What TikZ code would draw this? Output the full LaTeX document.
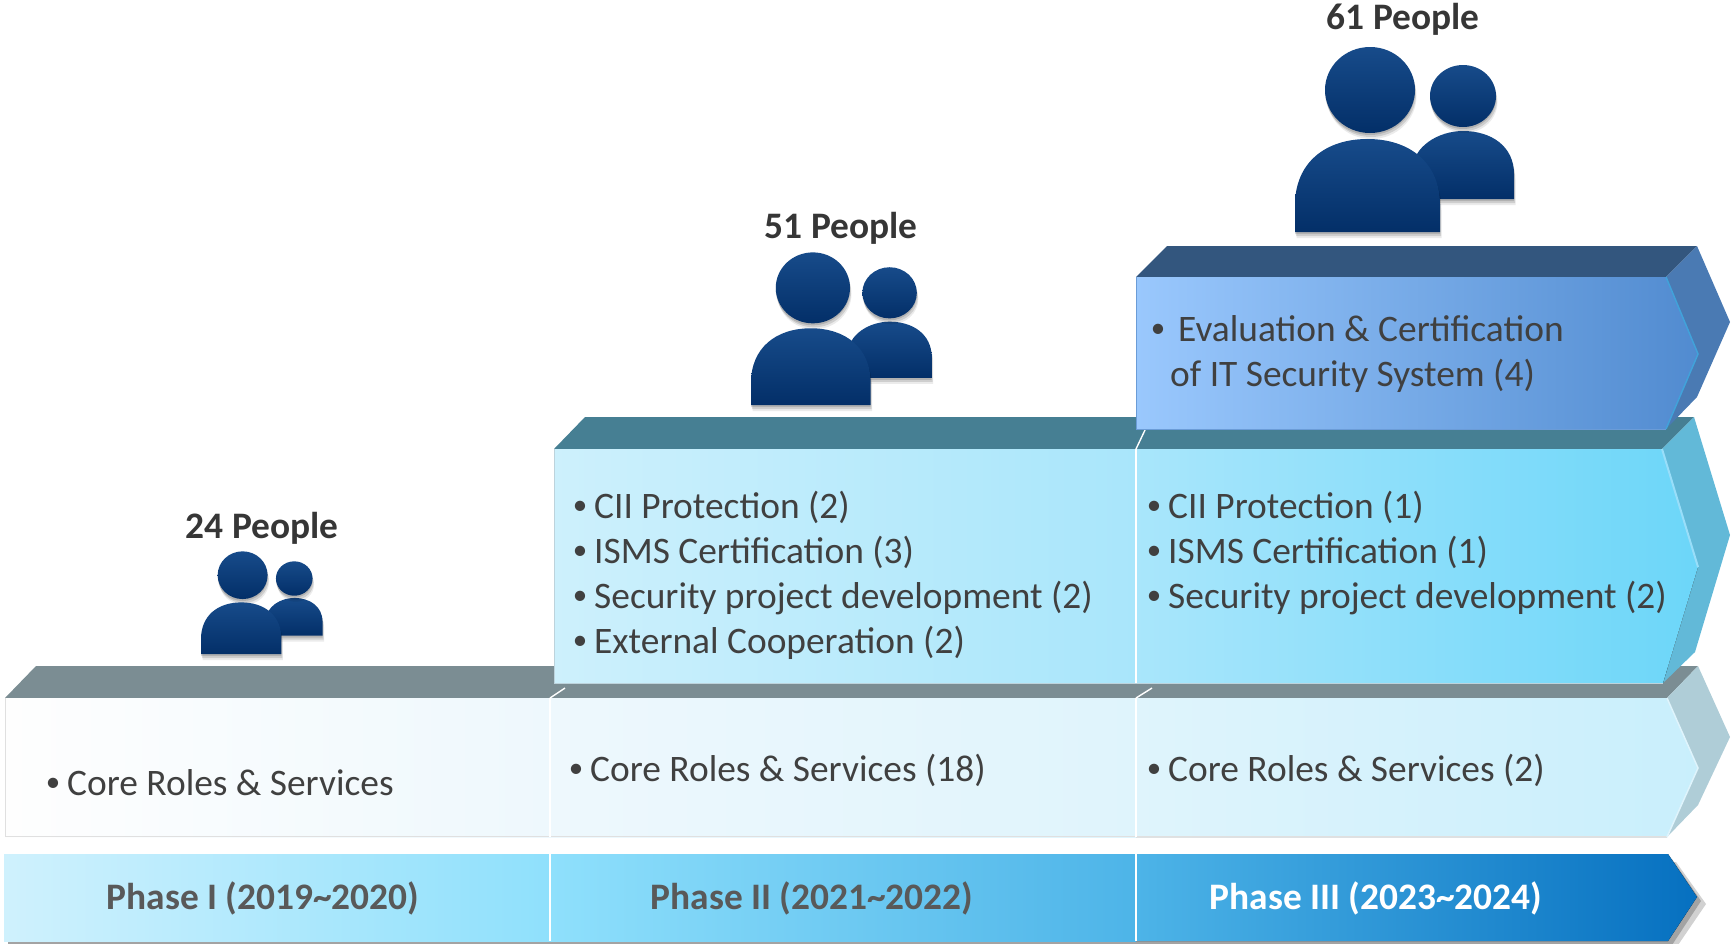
\documentclass[tikz,border=0pt]{standalone}
\usepackage{fontspec}
\setmainfont{Carlito}
\usetikzlibrary{shadows}
\definecolor{inktext}{HTML}{404040}
\definecolor{phasetext}{HTML}{595959}
\definecolor{headtext}{HTML}{363636}
\definecolor{faceA}{HTML}{7B8D93}
\definecolor{faceB}{HTML}{467F93}
\definecolor{faceC}{HTML}{33567E}
\definecolor{sideA}{HTML}{AFCDD7}
\definecolor{sideB}{HTML}{62B9D8}
\definecolor{sideC}{HTML}{4A7AB3}
\definecolor{personT}{HTML}{174B8A}
\definecolor{personB}{HTML}{032F68}
\definecolor{barA}{HTML}{CFF1FD}
\definecolor{barB}{HTML}{8FE0FC}
\definecolor{barC}{HTML}{4DB4E8}
\definecolor{barD}{HTML}{0670C0}
\definecolor{lowA}{HTML}{FEFEFE}
\definecolor{lowB}{HTML}{EEF8FD}
\definecolor{lowC}{HTML}{DFF4FC}
\definecolor{lowD}{HTML}{C9EFFC}
\definecolor{midA}{HTML}{CDF0FC}
\definecolor{midB}{HTML}{A9E6FB}
\definecolor{midC}{HTML}{6CD6F9}
\definecolor{topA}{HTML}{9AC8FD}
\definecolor{topB}{HTML}{84B5EE}
\definecolor{topC}{HTML}{518BD0}
% bullet in front of the text
\newcommand{\smalldot}{{\fontsize{29}{29}\selectfont\raisebox{4pt}{\textbullet}}}
\newcommand{\dotted}[1]{\llap{\smalldot\hspace{7pt}}#1}
% two people, x and y of the big body's lower left corner, then size
\newcommand{\people}[3]{%
    \begin{scope}[shift={(#1,#2)},scale=#3]
        \path[person] (117,-33) -- (117,-60) .. controls (117,-86) and (144,-101) .. (168,-101)
            .. controls (196,-101) and (219,-86) .. (219,-58) -- (219,-33) -- cycle;
        \path[person] (168,-136) ellipse [x radius=33,y radius=31];
        \path[person] (75,-142) ellipse [x radius=45,y radius=43];
        \path[person] (0,0) -- (0,-27) .. controls (0,-69) and (30,-93) .. (72.5,-93)
            .. controls (115,-93) and (145,-69) .. (145,-27) -- (145,0) -- cycle;
    \end{scope}
}
\begin{document}
\begin{tikzpicture}[
    x=1pt,y=-1pt,
    % Styles
    person/.style={
        top color=personT,
        bottom color=personB,
        drop shadow={shadow xshift=0pt,shadow yshift=-2pt,opacity=.14,fill=black},
        drop shadow={shadow xshift=1pt,shadow yshift=-4pt,opacity=.12,fill=black},
        drop shadow={shadow xshift=1.5pt,shadow yshift=-6pt,opacity=.08,fill=black},
    },
    item/.style={
        anchor=base west,
        inner sep=0pt,
        text=inktext,
        font=\fontsize{37.4}{45}\selectfont,
    },
    count/.style={
        anchor=base,
        inner sep=0pt,
        text=headtext,
        font=\fontsize{37.4}{45}\selectfont\bfseries,
    },
    phase/.style={
        anchor=base,
        inner sep=0pt,
        text=phasetext,
        font=\fontsize{37.4}{45}\selectfont\bfseries,
    },
    divider/.style={
        white,
        line width=2pt,
    },
    tick/.style={
        white,
        line width=1.4pt,
    },
    ]
    \useasboundingbox (0,0) rectangle (1731,943);

    % Phase bar
    \fill[black,opacity=.22] (8,859) -- (1672,859) -- (1701,901) -- (1672,945) -- (8,945) -- cycle;
    \fill[black,opacity=.18] (8,862) -- (1676,862) -- (1706,904) -- (1676,948) -- (8,948) -- cycle;
    \fill[left color=barA,right color=barB] (4,854) rectangle (550,941);
    \fill[left color=barB,right color=barC] (550,854) rectangle (1136,941);
    \fill[left color=barC,right color=barD]
        (1136,854) -- (1668,854) -- (1697,897) -- (1668,941) -- (1136,941) -- cycle;
    \draw[divider] (550,854) -- (550,941);
    \draw[divider] (1136,854) -- (1136,941);

    % Bottom block
    \fill[faceA] (36,666) -- (1698,666) -- (1667,698) -- (5,698) -- cycle;
    \fill[sideA] (1698,666) -- (1730,737) -- (1698,805) -- (1667,837) -- (1698,768) -- (1667,698) -- cycle;
    \fill[left color=lowA,right color=lowB] (5,698) rectangle (550,837);
    \fill[left color=lowB,right color=lowC] (550,698) rectangle (1136,837);
    \fill[left color=lowC,right color=lowD]
        (1136,698) -- (1667,698) -- (1698,768) -- (1667,837) -- (1136,837) -- cycle;
    \draw[line width=1pt,black!12] (5,698) -- (5,836.5) -- (1667,836.5);
    \draw[line width=1.5pt,lowC] (1667,698) -- (1698,768) -- (1667,837);
    \draw[divider] (550,698) -- (550,837);
    \draw[divider] (1136,698) -- (1136,837);
    \draw[tick] (550,698) -- (565,688);
    \draw[tick] (1136,698) -- (1152,688);

    % Middle block
    \fill[faceB] (585,417) -- (1694,417) -- (1662,449) -- (554,449) -- cycle;
    \fill[sideB] (1694,417) -- (1730,535) -- (1695,652) -- (1663,683) -- (1698,567) -- (1662,449) -- cycle;
    \fill[left color=midA,right color=midB] (554,449) rectangle (1136,683);
    \fill[left color=midB,right color=midC]
        (1136,449) -- (1662,449) -- (1698,567) -- (1663,683) -- (1136,683) -- cycle;
    \draw[line width=1pt,cyan!50!black!30] (554,449) -- (554,683) -- (1663,683);
    \draw[divider] (1136,449) -- (1136,683);
    \draw[tick] (1136,449) -- (1145,430);
    \draw[cyan!40!white,line width=2pt] (1662,449) -- (1698,567);

    % Top block
    \fill[faceC] (1167,246) -- (1697,246) -- (1666,277) -- (1136,277) -- cycle;
    \fill[sideC] (1697,246) -- (1730,322) -- (1697,397) -- (1666,429) -- (1698,354) -- (1666,277) -- cycle;
    \fill[left color=topA,middle color=topB,right color=topC]
        (1136,277) -- (1666,277) -- (1698,354) -- (1666,429) -- (1136,429) -- cycle;
    \draw[line width=1pt,topC!85!white] (1136,277) -- (1136,429) -- (1666,429);
    \draw[line width=1.5pt,topC!80!cyan] (1666,277) -- (1698,354) -- (1666,429);

    % People
    \people{1295}{232}{1}
    \people{751}{405}{.825}
    \people{201}{654}{.555}

    % Head counts
    \node[count] (c24) at (262,538) {24 People};
    \node[count] (c51) at (841,238) {51 People};
    \node[count] (c61) at (1403,29) {61 People};

    % Lists
    \node[item] (ev1) at (1178,341) {\llap{\smalldot\hspace{13pt}}Evaluation \& Certification};
    \node[item] (ev2) at (1170,386) {of IT Security System (4)};
    \foreach \y/\txt [count=\i] in {518/CII Protection (2),563/ISMS Certification (3),608/Security project development (2),653/External Cooperation (2)}
        \node[item] (ma\i) at (594,\y) {\dotted{\txt}};
    \foreach \y/\txt [count=\i] in {518/CII Protection (1),563/ISMS Certification (1),608/Security project development (2)}
        \node[item] (mb\i) at (1168,\y) {\dotted{\txt}};
    \node[item] (core1) at (67,795) {\dotted{Core Roles \& Services}};
    \node[item] (core2) at (590,781) {\dotted{Core Roles \& Services (18)}};
    \node[item] (core3) at (1168,781) {\dotted{Core Roles \& Services (2)}};

    % Phase names
    \node[phase] (ph1) at (263,909) {Phase I (2019\textasciitilde2020)};
    \node[phase] (ph2) at (812,909) {Phase II (2021\textasciitilde2022)};
    \node[phase,text=white] (ph3) at (1376,909) {Phase III (2023\textasciitilde2024)};

\end{tikzpicture}
\end{document}
